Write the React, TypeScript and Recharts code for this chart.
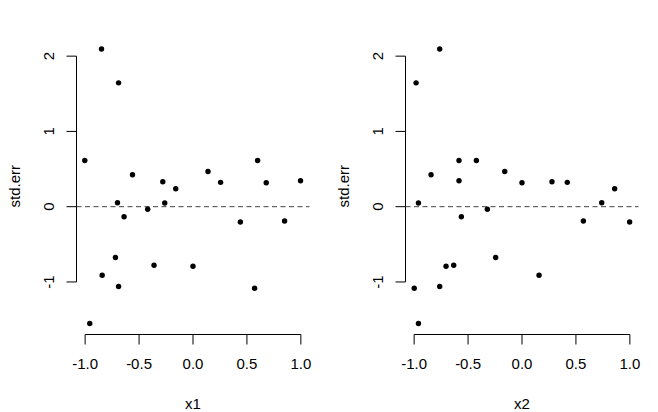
import { ScatterChart, Scatter, XAxis, YAxis, ReferenceLine, Label } from 'recharts'

// std.err values, shared by both panels (same residuals, different regressor)
const stdErr = [2.095, 1.645, 0.614, 0.424, 0.332, 0.239, 0.468, 0.323, 0.614, 0.318, 0.345, 0.053, -0.133, -0.035, 0.049, -0.203, -0.19, -0.676, -0.911, -0.778, -0.791, -1.061, -1.083, -1.552]
const x1 = [-0.848, -0.69, -1.003, -0.561, -0.28, -0.16, 0.139, 0.256, 0.599, 0.679, 0.997, -0.7, -0.639, -0.42, -0.262, 0.439, 0.849, -0.719, -0.842, -0.361, 0.0, -0.69, 0.571, -0.957]
const x2 = [-0.763, -0.982, -0.584, -0.843, 0.278, 0.859, -0.16, 0.42, -0.423, 0.0, -0.584, 0.739, -0.562, -0.321, -0.96, 0.998, 0.569, -0.244, 0.158, -0.633, -0.704, -0.763, -0.999, -0.96]

const xTicks = [-1, -0.5, 0, 0.5, 1]
const yTicks = [-1, 0, 1, 2]
const X_DOMAIN: [number, number] = [-1.08, 1.08]
const Y_DOMAIN: [number, number] = [-1.698, 2.241]

const FONT = '"Liberation Sans", Arial, Helvetica, sans-serif'
const FS = 15

const Dot = (p: any) => <circle cx={p.cx} cy={p.cy} r={2.7} fill="#000" />

const YTick = (p: any) => (
  <text
    x={p.x}
    y={p.y}
    dy="0.35em"
    textAnchor="middle"
    transform={`rotate(-90, ${p.x}, ${p.y})`}
    fontSize={FS}
    fontFamily={FONT}
    fill="#000"
  >
    {String(p.payload.value)}
  </text>
)

function Panel({ xs, name }: { xs: number[]; name: string }) {
  const data = xs.map((x, i) => ({ x, y: stdErr[i] }))
  return (
    <ScatterChart width={329} height={412} margin={{ top: 38, right: 19.5, bottom: 0, left: 0 }}>
      <XAxis
        type="number"
        dataKey="x"
        domain={X_DOMAIN}
        ticks={xTicks}
        allowDataOverflow
        axisLine={false}
        tickLine={{ stroke: '#000' }}
        tickSize={10}
        tickMargin={13.5}
        height={77.5}
        tickFormatter={(v: number) => v.toFixed(1)}
        tick={{ fill: '#000', fontSize: FS, fontFamily: FONT }}
      >
        <Label
          content={(p: any) => (
            <text
              x={p.viewBox.x + p.viewBox.width / 2}
              y={p.viewBox.y + p.viewBox.height - 3.5}
              textAnchor="middle"
              fontSize={FS}
              fontFamily={FONT}
              fill="#000"
            >
              {name}
            </text>
          )}
        />
      </XAxis>
      <YAxis
        type="number"
        dataKey="y"
        domain={Y_DOMAIN}
        ticks={yTicks}
        allowDataOverflow
        axisLine={false}
        tickLine={{ stroke: '#000' }}
        tickSize={10}
        tickMargin={17.5}
        width={76.5}
        tick={YTick}
      >
        <Label
          content={(p: any) => {
            const cx = 15
            const cy = p.viewBox.y + p.viewBox.height / 2
            return (
              <text
                x={cx}
                y={cy}
                dy="0.35em"
                textAnchor="middle"
                transform={`rotate(-90, ${cx}, ${cy})`}
                fontSize={FS}
                fontFamily={FONT}
                fill="#000"
              >
                std.err
              </text>
            )
          }}
        />
      </YAxis>
      <ReferenceLine
        segment={[{ x: -1, y: Y_DOMAIN[0] }, { x: 1, y: Y_DOMAIN[0] }]}
        stroke="#000"
        ifOverflow="visible"
      />
      <ReferenceLine
        segment={[{ x: X_DOMAIN[0], y: -1 }, { x: X_DOMAIN[0], y: 2 }]}
        stroke="#000"
        ifOverflow="visible"
      />
      <ReferenceLine y={0} stroke="#444" strokeDasharray="5 3.5" />
      <Scatter data={data} shape={Dot} isAnimationActive={false} />
    </ScatterChart>
  )
}

export default function App() {
  return (
    <div style={{ position: 'absolute', left: 0, top: 0, width: 658, height: 412, background: '#fff' }}>
      <div style={{ position: 'absolute', left: 0, top: 0 }}>
        <Panel xs={x1} name="x1" />
      </div>
      <div style={{ position: 'absolute', left: 329, top: 0 }}>
        <Panel xs={x2} name="x2" />
      </div>
    </div>
  )
}
